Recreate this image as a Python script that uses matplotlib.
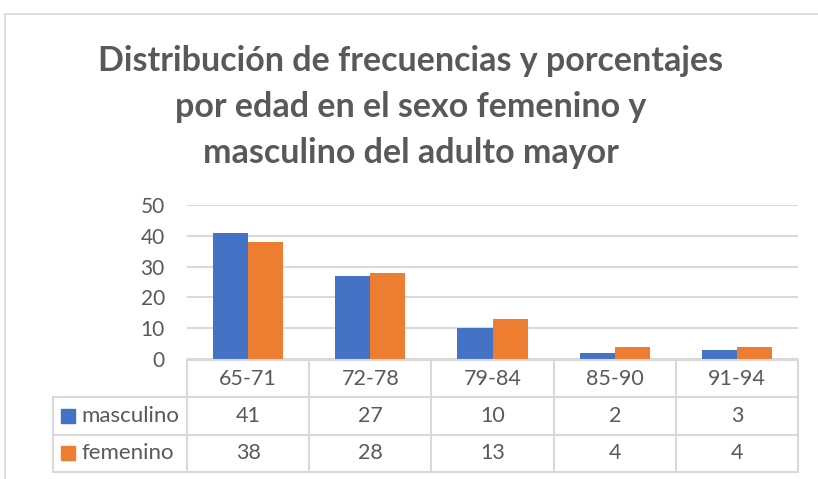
import matplotlib
matplotlib.use("Agg")
import matplotlib.pyplot as plt
from matplotlib.lines import Line2D

# datos de la grafica
edades = ["65-71", "72-78", "79-84", "85-90", "91-94"]
masculino = [41, 27, 10, 2, 3]
femenino = [38, 28, 13, 4, 4]
series = ["masculino", "femenino"]
yticks = [0, 10, 20, 30, 40, 50]

azul = "#4472C4"
naranja = "#ED7D31"
gris = "#D9D9D9"
texto = "#595959"

plt.rcParams["font.family"] = ["Lato", "DejaVu Sans"]

fig = plt.figure(figsize=(8.18, 4.79), dpi=100)

# marco del grafico
fig.add_artist(Line2D([0.0061, 0.0061], [0.0, 0.9708], color=gris, lw=1.2))
fig.add_artist(Line2D([0.0061, 1.0], [0.9708, 0.9708], color=gris, lw=1.2))

fig.text(0.502, 0.7766, "Distribución de frecuencias y porcentajes\n"
         "por edad en el sexo femenino y\nmasculino del adulto mayor",
         ha="center", va="center", fontsize=24.5, fontweight="bold",
         color=texto, linespacing=1.52)

# barras
ax = fig.add_axes([0.2286, 0.2505, 0.747, 0.3215])
x = list(range(len(edades)))
w = 0.287
ax.bar([i - w / 2 for i in x], masculino, w, color=azul, zorder=3)
ax.bar([i + w / 2 for i in x], femenino, w, color=naranja, zorder=3)
ax.set_xlim(-0.5, len(edades) - 0.5)
ax.set_ylim(0, 50)
ax.set_yticks(yticks)
ax.yaxis.grid(True, color=gris, lw=1.5, zorder=0)
ax.set_xticks([])
for s in ax.spines.values():
    s.set_visible(False)
ax.tick_params(axis="y", length=0, pad=16, labelsize=15, labelcolor=texto)

# tabla de datos
tx = fig.add_axes([0.0648, 0.0146, 0.9108, 0.2338])
izq = -0.5 - 134 / 122.2
tx.set_xlim(izq, len(edades) - 0.5)
tx.set_ylim(0, 3)
tx.axis("off")
n = len(edades)
for i in range(n + 1):
    tx.plot([i - 0.5, i - 0.5], [0, 3], color=gris, lw=1.5, clip_on=False)
tx.plot([izq, izq], [0, 2], color=gris, lw=1.5, clip_on=False)
tx.plot([-0.5, n - 0.5], [3, 3], color=gris, lw=1.5, clip_on=False)
for yy in [0, 1, 2]:
    tx.plot([izq, n - 0.5], [yy, yy], color=gris, lw=1.5, clip_on=False)

for i, e in enumerate(edades):
    tx.text(i, 2.5, e, ha="center", va="center", fontsize=15.5, color=texto)
    tx.text(i, 1.5, str(masculino[i]), ha="center", va="center", fontsize=15.5, color=texto)
    tx.text(i, 0.5, str(femenino[i]), ha="center", va="center", fontsize=15.5, color=texto)

for fila, nombre, col in [(1.5, series[0], azul), (0.5, series[1], naranja)]:
    tx.plot([izq + 0.12], [fila], marker="s", markersize=10, color=col, clip_on=False)
    tx.text(izq + 0.235, fila, nombre, ha="left", va="center", fontsize=16, color=texto)

fig.savefig("out.png", dpi=100)
